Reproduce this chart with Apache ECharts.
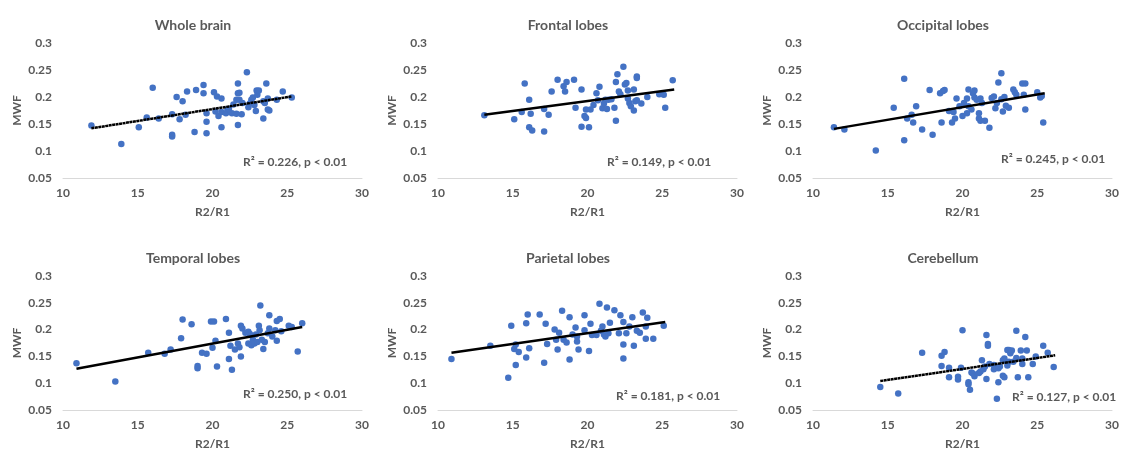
<!DOCTYPE html>
<html>
<head>
<meta charset="utf-8">
<script src="https://cdn.jsdelivr.net/npm/echarts@6/dist/echarts.min.js"></script>
<style>
  html, body { margin: 0; padding: 0; background: #fff; }
  #main { width: 1124px; height: 454px; }
</style>
</head>
<body>
<div id="main"></div>
<script>
// panel titles and R² notes
const titles = ['Whole brain', 'Frontal lobes', 'Occipital lobes', 'Temporal lobes', 'Parietal lobes', 'Cerebellum'];
const notes = ['0.226', '0.149', '0.245', '0.250', '0.181', '0.127'];
const xTicks = [10, 15, 20, 25, 30];
const yTicks = [0.05, 0.1, 0.15, 0.2, 0.25, 0.3];

// [R2/R1, MWF]
const wholeBrain = [
  [11.9, 0.147], [13.9, 0.113], [15.07, 0.144], [15.6, 0.162], [16.0, 0.217], [16.4, 0.160],
  [17.3, 0.168], [17.3, 0.130], [17.3, 0.127], [17.6, 0.200], [17.8, 0.159], [18.0, 0.192],
  [18.2, 0.167], [18.3, 0.210], [18.8, 0.135], [18.9, 0.213], [19.4, 0.222], [19.4, 0.207],
  [19.6, 0.154], [19.6, 0.133], [19.6, 0.170], [20.1, 0.209], [20.2, 0.173], [20.3, 0.201],
  [20.4, 0.165], [20.6, 0.197], [20.6, 0.144], [20.6, 0.172], [20.9, 0.170], [21.0, 0.177],
  [21.1, 0.178], [21.3, 0.170], [21.4, 0.186], [21.6, 0.195], [21.6, 0.169], [21.7, 0.225],
  [21.7, 0.207], [21.7, 0.148], [21.8, 0.208], [21.8, 0.195], [21.95, 0.168], [22.0, 0.189],
  [22.3, 0.246], [22.4, 0.181], [22.5, 0.188], [22.6, 0.195], [22.7, 0.199], [22.8, 0.185],
  [22.9, 0.174], [22.95, 0.212], [23.0, 0.204], [23.1, 0.212], [23.4, 0.160], [23.4, 0.192],
  [23.5, 0.189], [23.6, 0.225], [23.7, 0.177], [23.8, 0.175], [23.7, 0.197], [24.3, 0.195],
  [24.7, 0.210], [25.3, 0.199]
];
const frontal = [
  [13.1, 0.166], [15.1, 0.159], [15.6, 0.172], [15.8, 0.225], [16.1, 0.195], [16.1, 0.144],
  [16.2, 0.169], [16.3, 0.138], [17.1, 0.136], [17.1, 0.178], [17.4, 0.167], [17.6, 0.210],
  [18.0, 0.232], [18.4, 0.220], [18.5, 0.210], [18.6, 0.228], [19.1, 0.232], [19.2, 0.180],
  [19.6, 0.214], [19.6, 0.145], [19.8, 0.165], [19.9, 0.161], [19.9, 0.177], [20.1, 0.144],
  [20.2, 0.177], [20.4, 0.185], [20.6, 0.207], [20.7, 0.194], [20.8, 0.219], [21.0, 0.179],
  [21.1, 0.188], [21.2, 0.195], [21.3, 0.178], [21.4, 0.195], [21.6, 0.196], [21.8, 0.180],
  [21.9, 0.156], [21.9, 0.228], [22.0, 0.242], [22.1, 0.210], [22.2, 0.205], [22.4, 0.256],
  [22.5, 0.223], [22.6, 0.226], [22.7, 0.197], [22.7, 0.212], [22.8, 0.189], [22.9, 0.183],
  [23.1, 0.175], [23.1, 0.214], [23.2, 0.192], [23.3, 0.238], [23.3, 0.235], [23.3, 0.194],
  [23.6, 0.188], [24.0, 0.200], [24.8, 0.205], [25.1, 0.204], [25.2, 0.180], [25.7, 0.231]
];
const occipital = [
  [11.4, 0.144], [12.1, 0.140], [14.2, 0.101], [15.4, 0.180], [16.1, 0.234], [16.1, 0.120],
  [16.3, 0.160], [16.6, 0.167], [16.7, 0.153], [16.9, 0.183], [17.3, 0.140], [17.8, 0.213],
  [18.0, 0.130], [18.5, 0.207], [18.6, 0.153], [18.7, 0.211], [18.8, 0.213], [19.1, 0.174],
  [19.3, 0.153], [19.4, 0.172], [19.5, 0.160], [19.6, 0.197], [19.8, 0.183], [20.0, 0.165],
  [20.1, 0.189], [20.3, 0.197], [20.3, 0.170], [20.4, 0.183], [20.4, 0.214], [20.6, 0.177],
  [20.7, 0.207], [20.8, 0.199], [20.8, 0.212], [20.95, 0.195], [21.1, 0.160], [21.1, 0.170],
  [21.2, 0.197], [21.2, 0.156], [21.3, 0.189], [21.5, 0.156], [21.8, 0.143], [21.95, 0.198],
  [22.1, 0.201], [22.2, 0.179], [22.3, 0.189], [22.4, 0.227], [22.6, 0.244], [22.6, 0.196],
  [22.7, 0.173], [22.8, 0.200], [22.9, 0.184], [23.1, 0.180], [23.4, 0.214], [23.5, 0.209],
  [23.6, 0.204], [24.0, 0.225], [24.2, 0.225], [24.1, 0.204], [24.2, 0.177], [25.0, 0.209],
  [25.2, 0.199], [25.3, 0.202], [25.4, 0.153]
];
const temporal = [
  [10.9, 0.137], [13.5, 0.103], [15.7, 0.157], [16.8, 0.155], [17.2, 0.163], [17.9, 0.184],
  [18.0, 0.219], [18.6, 0.210], [19.0, 0.132], [19.0, 0.128], [19.3, 0.157], [19.6, 0.155],
  [19.9, 0.215], [20.1, 0.215], [20.0, 0.166], [20.2, 0.179], [20.3, 0.131], [20.9, 0.220],
  [21.1, 0.145], [21.1, 0.194], [21.2, 0.170], [21.3, 0.125], [21.5, 0.163], [21.7, 0.174],
  [21.8, 0.167], [21.9, 0.207], [21.9, 0.150], [22.0, 0.202], [22.2, 0.194], [22.4, 0.174],
  [22.4, 0.196], [22.5, 0.192], [22.6, 0.171], [22.7, 0.181], [22.8, 0.174], [22.9, 0.191],
  [23.0, 0.177], [23.1, 0.207], [23.15, 0.199], [23.2, 0.245], [23.3, 0.181], [23.4, 0.164],
  [23.5, 0.177], [23.7, 0.193], [23.8, 0.202], [23.8, 0.227], [24.0, 0.187], [24.2, 0.199],
  [24.3, 0.179], [24.3, 0.216], [24.5, 0.220], [24.6, 0.197], [25.1, 0.207], [25.3, 0.205],
  [25.7, 0.159], [26.0, 0.212]
];
const parietal = [
  [10.9, 0.145], [13.5, 0.170], [14.7, 0.110], [14.9, 0.207], [15.1, 0.164], [15.2, 0.134],
  [15.2, 0.172], [15.4, 0.158], [15.9, 0.148], [15.9, 0.212], [16.0, 0.228], [16.1, 0.165],
  [16.8, 0.228], [17.1, 0.138], [17.2, 0.211], [17.3, 0.173], [17.8, 0.200], [17.9, 0.181],
  [18.0, 0.163], [18.1, 0.194], [18.3, 0.235], [18.4, 0.181], [18.6, 0.176], [18.8, 0.223],
  [18.8, 0.144], [19.0, 0.191], [19.2, 0.204], [19.3, 0.187], [19.3, 0.178], [19.4, 0.163],
  [19.8, 0.227], [19.8, 0.199], [20.1, 0.160], [20.2, 0.211], [20.3, 0.190], [20.6, 0.190],
  [20.8, 0.248], [20.9, 0.198], [21.0, 0.206], [21.1, 0.191], [21.2, 0.187], [21.3, 0.241],
  [21.4, 0.193], [21.5, 0.213], [21.8, 0.236], [22.1, 0.193], [22.2, 0.227], [22.4, 0.214],
  [22.4, 0.172], [22.4, 0.146], [22.6, 0.193], [22.8, 0.206], [23.0, 0.223], [23.1, 0.170],
  [23.3, 0.198], [23.5, 0.194], [23.7, 0.232], [23.9, 0.206], [23.9, 0.183], [24.0, 0.222],
  [24.4, 0.183], [25.1, 0.207]
];
const cerebellum = [
  [14.5, 0.093], [15.7, 0.081], [17.3, 0.157], [18.6, 0.151], [18.8, 0.158], [18.6, 0.132],
  [19.1, 0.129], [19.1, 0.111], [19.7, 0.112], [19.7, 0.107], [19.9, 0.129], [20.0, 0.199],
  [20.4, 0.102], [20.4, 0.098], [20.5, 0.088], [20.6, 0.120], [20.7, 0.118], [20.8, 0.113],
  [21.1, 0.119], [21.2, 0.122], [21.3, 0.143], [21.4, 0.126], [21.5, 0.131], [21.6, 0.190],
  [21.7, 0.170], [21.7, 0.173], [21.6, 0.108], [21.8, 0.136], [22.1, 0.134], [22.1, 0.126],
  [22.4, 0.102], [22.3, 0.071], [22.4, 0.128], [22.5, 0.131], [22.7, 0.143], [22.7, 0.114],
  [22.8, 0.111], [22.8, 0.146], [23.0, 0.162], [23.0, 0.133], [23.1, 0.140], [23.1, 0.162],
  [23.2, 0.156], [23.3, 0.161], [23.4, 0.140], [23.6, 0.198], [23.6, 0.147], [23.7, 0.111],
  [23.9, 0.161], [24.0, 0.146], [24.0, 0.136], [24.2, 0.186], [24.3, 0.161], [24.4, 0.111],
  [24.7, 0.136], [24.9, 0.150], [25.4, 0.170], [25.7, 0.157], [26.1, 0.130]
];

// trendline end points as drawn
const trendWhole = [[11.9, 0.142], [25.3, 0.201]];
const trendFrontal = [[13.1, 0.167], [25.8, 0.214]];
const trendOccipital = [[11.4, 0.141], [25.5, 0.207]];
const trendTemporal = [[10.9, 0.127], [26.0, 0.205]];
const trendParietal = [[10.9, 0.157], [25.2, 0.214]];
const trendCerebellum = [[14.5, 0.104], [26.2, 0.152]];

const panels = [wholeBrain, frontal, occipital, temporal, parietal, cerebellum];
const trends = [trendWhole, trendFrontal, trendOccipital, trendTemporal, trendParietal, trendCerebellum];

const chart = echarts.init(document.getElementById('main'));

const grey = '#595959';
const font = 'Lato, "Open Sans", sans-serif';
// grid boxes in px
const lefts = [63, 438, 813];
const tops = [43, 276];
const gw = 299, ghs = [135, 134];
const noteXY = [[243, 164], [607, 164], [1001, 161], [243, 396], [616, 398], [1012, 399]];
const titleY = [20, 253];

const grids = [], xAxes = [], yAxes = [], series = [], titleArr = [], graphics = [];
for (let i = 0; i < 6; i++) {
  const col = i % 3, row = Math.floor(i / 3);
  grids.push({ left: lefts[col], top: tops[row], width: gw, height: ghs[row] });
  xAxes.push({
    gridIndex: i, type: 'value', min: xTicks[0], max: xTicks[xTicks.length - 1], interval: 5,
    name: 'R2/R1', nameLocation: 'middle', nameGap: 28,
    nameTextStyle: { color: grey, fontFamily: font, fontWeight: 'bold', fontSize: 12 },
    axisLine: { show: true, lineStyle: { color: '#d9d9d9', width: 1 } },
    axisTick: { show: false },
    axisLabel: { color: grey, fontFamily: font, fontWeight: 'bold', fontSize: 12, margin: 9 },
    splitLine: { show: false }
  });
  yAxes.push({
    gridIndex: i, type: 'value', min: yTicks[0], max: yTicks[yTicks.length - 1], interval: 0.05,
    name: 'MWF', nameLocation: 'middle', nameGap: 40, nameRotate: 90,
    nameTextStyle: { color: grey, fontFamily: font, fontWeight: 'bold', fontSize: 12 },
    axisLine: { show: false },
    axisTick: { show: false },
    axisLabel: { color: grey, fontFamily: font, fontWeight: 'bold', fontSize: 12, margin: 11 },
    splitLine: { show: false }
  });
  series.push({
    type: 'scatter', xAxisIndex: i, yAxisIndex: i, data: panels[i],
    symbolSize: 6.5, itemStyle: { color: '#4472c4', opacity: 1 }, z: 2
  });
  // whole brain and cerebellum fits are drawn with a dotted black line
  const dotted = (i === 0 || i === 5);
  series.push({
    type: 'line', xAxisIndex: i, yAxisIndex: i, data: trends[i],
    symbol: 'none', silent: true, z: 3,
    lineStyle: { color: '#000', width: 2.5, type: dotted ? [3, 0.5] : 'solid' }
  });
  titleArr.push({
    text: titles[i], left: 188 + col * 375, top: titleY[row], textAlign: 'center', textVerticalAlign: 'middle',
    textStyle: { color: grey, fontFamily: font, fontWeight: 'bold', fontSize: 14 }
  });
  graphics.push({
    type: 'text', left: noteXY[i][0], top: noteXY[i][1] - 8,
    style: {
      text: 'R² = ' + notes[i] + ', p < 0.01',
      fill: grey, font: 'bold 12px ' + font
    }
  });
}

chart.setOption({
  animation: false,
  backgroundColor: '#fff',
  title: titleArr,
  grid: grids,
  xAxis: xAxes,
  yAxis: yAxes,
  series: series,
  graphic: graphics
});
</script>
</body>
</html>
